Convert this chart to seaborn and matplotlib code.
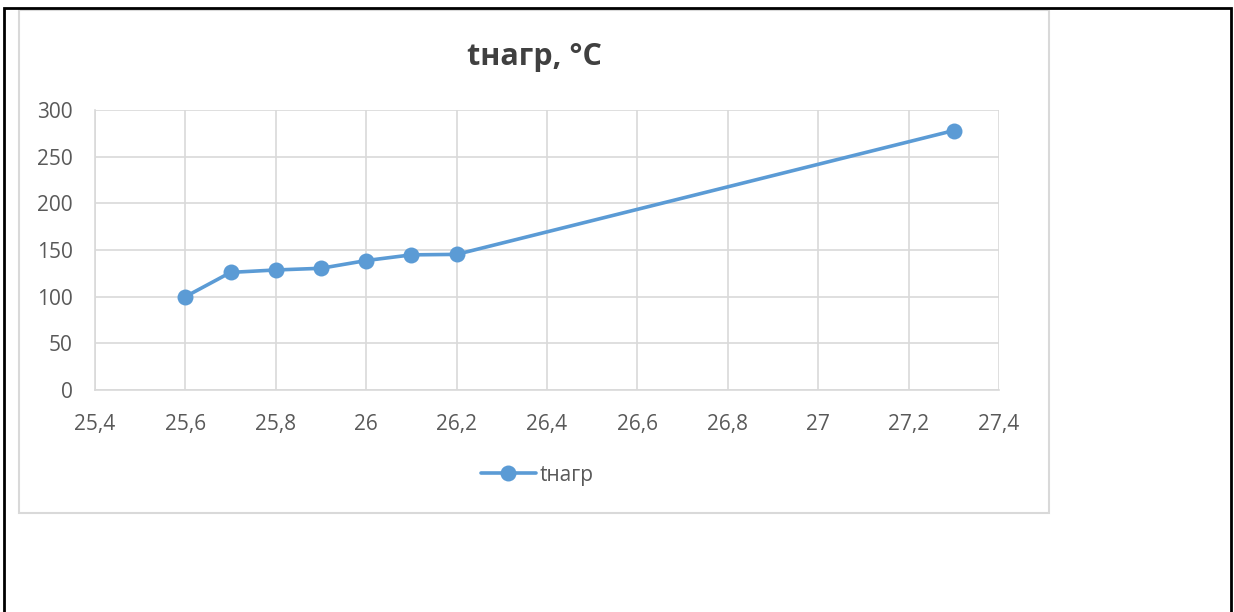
import matplotlib
matplotlib.use("Agg")
import matplotlib.pyplot as plt
import seaborn as sns
import pandas as pd
from matplotlib.patches import Rectangle
from matplotlib.ticker import FuncFormatter, MultipleLocator

x_vals = [25.6, 25.7, 25.8, 25.9, 26.0, 26.1, 26.2, 27.3]
y_vals = [100, 126, 128.6, 130.4, 138.7, 144.8, 145.3, 278]
series_name = "tнагр"
title_text = "tнагр, °C"

df = pd.DataFrame({"x": x_vals, "y": y_vals, "series": series_name})

sns.set_theme(style="white")
plt.rcParams['font.family'] = ['Open Sans', 'DejaVu Sans']

W, H = 1234, 612
fig = plt.figure(figsize=(W / 100, H / 100), dpi=100)
ax = fig.add_axes([95 / W, 1 - 390 / H, (999 - 95) / W, (390 - 110) / H])

blue = "#5B9BD5"
sns.lineplot(data=df, x="x", y="y", hue="series", palette=[blue], marker="o",
             markersize=11.5, markeredgewidth=0, linewidth=2.6, ax=ax, legend=True,
             sort=False, zorder=3)

ax.set_xlim(25.4, 27.4)
ax.set_ylim(0, 300)
ax.xaxis.set_major_locator(MultipleLocator(0.2))
ax.yaxis.set_major_locator(MultipleLocator(50))

def fmt(v, pos):
    s = f"{v:.1f}"
    if s.endswith(".0"):
        s = s[:-2]
    return s.replace(".", ",")

ax.xaxis.set_major_formatter(FuncFormatter(fmt))
ax.grid(True, color="#D9D9D9", linewidth=1.2)
ax.set_axisbelow(True)
for side in ["top", "right"]:
    ax.spines[side].set_visible(False)
for side in ["left", "bottom"]:
    ax.spines[side].set_color("#D9D9D9")
    ax.spines[side].set_linewidth(1.2)
ax.tick_params(axis="both", length=0, labelsize=15, colors="#595959")
ax.tick_params(axis="x", pad=17)
ax.tick_params(axis="y", pad=16)
ax.set_xlabel("")
ax.set_ylabel("")

fig.text(534 / W, 1 - 57 / H, title_text, ha="center", va="center",
         fontsize=22, fontweight="bold", color="#404040")

handles, labels = ax.get_legend_handles_labels()
leg = ax.legend(handles, labels, loc="center", bbox_to_anchor=(537 / W, 1 - 475 / H),
                bbox_transform=fig.transFigure, frameon=False, fontsize=15,
                handlelength=2.65, handletextpad=0.15)
for t in leg.get_texts():
    t.set_color("#595959")

# chart area border
fig.patches.append(Rectangle((19 / W, 1 - 513 / H), (1049 - 19) / W, (513 - 10) / H,
                             transform=fig.transFigure, fill=False,
                             edgecolor="#D9D9D9", linewidth=1.5))
# outer black frame
fig.patches.append(Rectangle((4 / W, -0.05), (1231 - 4) / W, 1.05 - 8 / H,
                             transform=fig.transFigure, fill=False,
                             edgecolor="black", linewidth=2))

fig.savefig("out.png", dpi=100)
